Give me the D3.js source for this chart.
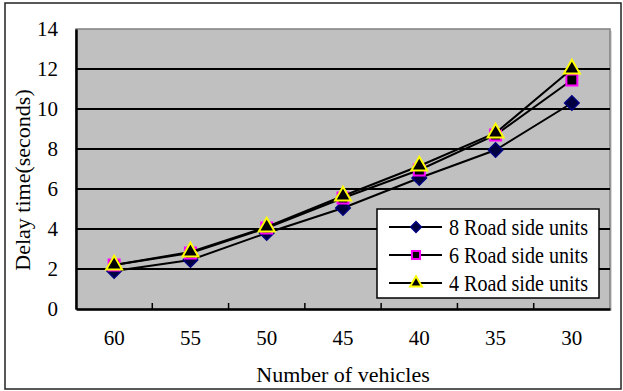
<!DOCTYPE html>
<html>
<head>
<meta charset="utf-8">
<script src="https://cdn.jsdelivr.net/npm/d3@7/dist/d3.min.js"></script>
<style>
  html, body { margin: 0; padding: 0; background: #fff; }
  svg text { font-family: "Liberation Serif", "Times New Roman", serif !important; fill: #000; }
</style>
</head>
<body>
<svg id="chart" width="623" height="391"></svg>
<script>
// Number of vehicles on the road (x categories)
const vehicles = ["60", "55", "50", "45", "40", "35", "30"];
// Delay time in seconds for each road-side-unit deployment
const rsu8 = [1.9, 2.45, 3.8, 5.05, 6.55, 7.95, 10.3];
const rsu6 = [2.2, 2.8, 4.05, 5.55, 6.95, 8.7, 11.45];
const rsu4 = [2.2, 2.85, 4.1, 5.65, 7.15, 8.8, 12.0];
const seriesNames = ["8 Road side units", "6 Road side units", "4 Road side units"];
const yTicks = [0, 2, 4, 6, 8, 10, 12, 14];

const svg = d3.select("#chart");
const plot = { left: 76, top: 29, right: 610, bottom: 309 };

// outer chart frame
svg.append("rect")
  .attr("x", 5).attr("y", 3).attr("width", 616).attr("height", 386)
  .attr("fill", "#fff").attr("stroke", "#222").attr("stroke-width", 1.5);

const x = d3.scaleBand().domain(vehicles).range([plot.left, plot.right]);
const y = d3.scaleLinear().domain([0, 14]).range([plot.bottom, plot.top]);

// plot background with light shadow
svg.append("rect")
  .attr("x", plot.left + 2).attr("y", plot.top + 2)
  .attr("width", plot.right - plot.left).attr("height", plot.bottom - plot.top)
  .attr("fill", "#d8d8d8");
svg.append("rect")
  .attr("x", plot.left).attr("y", plot.top)
  .attr("width", plot.right - plot.left).attr("height", plot.bottom - plot.top)
  .attr("fill", "#c0c0c0").attr("stroke", "#808080").attr("stroke-width", 1.5);

// horizontal gridlines
svg.append("g").selectAll("line")
  .data(yTicks.filter(d => d > 0 && d < 14))
  .join("line")
  .attr("x1", plot.left).attr("x2", plot.right)
  .attr("y1", d => y(d)).attr("y2", d => y(d))
  .attr("stroke", "#000").attr("stroke-width", 2);

// y axis
const yAxis = svg.append("g")
  .attr("transform", `translate(${plot.left},0)`)
  .call(d3.axisLeft(y).tickValues(yTicks).tickSize(0).tickPadding(18));
yAxis.attr("font-family", null).attr("font-size", 21);
yAxis.select(".domain").attr("stroke", "#000").attr("stroke-width", 2.5);

// x axis with inward ticks at category boundaries
const xAxis = svg.append("g")
  .attr("transform", `translate(0,${plot.bottom})`)
  .call(d3.axisBottom(x).tickSize(0).tickPadding(21));
xAxis.attr("font-family", null).attr("font-size", 21);
xAxis.select(".domain").attr("stroke", "#000").attr("stroke-width", 2.5);
svg.append("g").selectAll("line")
  .data(vehicles.slice(1))
  .join("line")
  .attr("x1", d => x(d)).attr("x2", d => x(d))
  .attr("y1", plot.bottom).attr("y2", plot.bottom - 6)
  .attr("stroke", "#000").attr("stroke-width", 1.5);

// axis titles
svg.append("text")
  .attr("x", x("45") + x.bandwidth() / 2).attr("y", 382)
  .attr("text-anchor", "middle").attr("font-size", 22)
  .text("Number of vehicles");
svg.append("text")
  .attr("transform", "translate(30,180) rotate(-90)")
  .attr("text-anchor", "middle").attr("font-size", 22)
  .text("Delay time(seconds)");

// marker shapes (the diamond is a square turned by 45 degrees)
const markers = [
  { shape: d3.symbolSquare, rot: 45, size: 105, fill: "#000040", stroke: "#000080", sw: 1.5 },
  { shape: d3.symbolSquare, rot: 0, size: 120, fill: "#000", stroke: "#ff00ff", sw: 2 },
  { shape: d3.symbolTriangle, rot: 0, size: 110, fill: "#000", stroke: "#ffff00", sw: 2 }
];
const data = [rsu8, rsu6, rsu4];

const line = d3.line()
  .x((d, i) => x(vehicles[i]) + x.bandwidth() / 2)
  .y(d => y(d));

data.forEach((vals, s) => {
  const g = svg.append("g");
  g.append("path").attr("d", line(vals))
    .attr("fill", "none").attr("stroke", "#000").attr("stroke-width", 2);
  g.selectAll("path.m").data(vals).join("path")
    .attr("class", "m")
    .attr("transform", (d, i) =>
      `translate(${x(vehicles[i]) + x.bandwidth() / 2},${y(d)}) rotate(${markers[s].rot})`)
    .attr("d", d3.symbol().type(markers[s].shape).size(markers[s].size))
    .attr("fill", markers[s].fill).attr("stroke", markers[s].stroke)
    .attr("stroke-width", markers[s].sw);
});

// legend
const lg = svg.append("g");
lg.append("rect")
  .attr("x", 377).attr("y", 209).attr("width", 222).attr("height", 89)
  .attr("fill", "#fff").attr("stroke", "#000").attr("stroke-width", 1.5);
seriesNames.forEach((name, i) => {
  const cy = 227 + i * 28;
  lg.append("line").attr("x1", 389).attr("x2", 442).attr("y1", cy).attr("y2", cy)
    .attr("stroke", "#000").attr("stroke-width", 2);
  lg.append("path")
    .attr("transform", `translate(416,${cy}) rotate(${markers[i].rot})`)
    .attr("d", d3.symbol().type(markers[i].shape).size(markers[i].size * 0.55))
    .attr("fill", markers[i].fill).attr("stroke", markers[i].stroke)
    .attr("stroke-width", markers[i].sw);
  lg.append("text")
    .attr("x", 449).attr("y", cy + 8)
    .attr("font-size", 23)
    .attr("textLength", 139).attr("lengthAdjust", "spacingAndGlyphs")
    .text(name);
});
</script>
</body>
</html>
